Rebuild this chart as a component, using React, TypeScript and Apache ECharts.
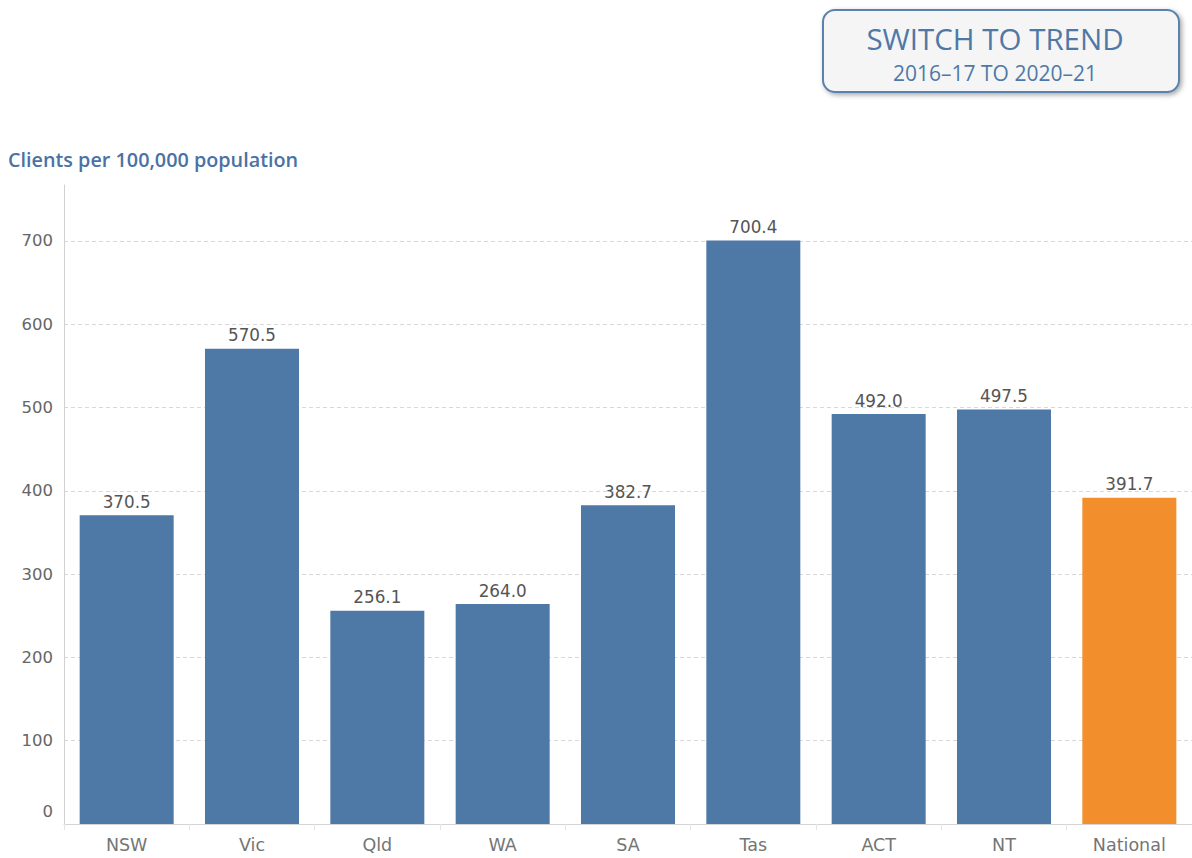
import React, { useEffect, useRef } from "react";
import * as echarts from "echarts";

const categories = ["NSW", "Vic", "Qld", "WA", "SA", "Tas", "ACT", "NT", "National"];
const values = [370.5, 570.5, 256.1, 264.0, 382.7, 700.4, 492.0, 497.5, 391.7];
const tickValues = [0, 100, 200, 300, 400, 500, 600, 700];
const axisTitle = "Clients per 100,000 population";
const buttonTitle = "SWITCH TO TREND";
const buttonSub = "2016\u201317 TO 2020\u201321";

const BLUE = "#4e79a7";
const ORANGE = "#f28e2b";
const LABEL_FONT = "DejaVu Sans, Verdana, sans-serif";

export default function App() {
  const ref = useRef<HTMLDivElement>(null);
  useEffect(() => {
    if (!ref.current) return;
    const chart = echarts.init(ref.current, null, { renderer: "svg" });
    chart.setOption({
      animation: false,
      textStyle: { fontFamily: LABEL_FONT },
      grid: { left: 64, right: 0, top: 185, bottom: 34, containLabel: false },
      xAxis: {
        type: "category",
        data: categories,
        axisLine: { lineStyle: { color: "#d4d4d4", width: 1 } },
        axisTick: { show: true, length: 6, lineStyle: { color: "#e4e4e4" } },
        axisLabel: { color: "#757575", fontSize: 17.5, margin: 12, fontFamily: LABEL_FONT },
      },
      yAxis: {
        type: "value",
        min: 0,
        max: 767,
        interval: 100,
        axisLine: { show: true, lineStyle: { color: "#d0d0d0" } },
        axisTick: { show: false, customValues: tickValues },
        axisLabel: {
          color: "#666",
          fontSize: 16.5,
          margin: 11,
          fontFamily: LABEL_FONT,
          customValues: tickValues,
          formatter: (v: number) => (v === 0 ? "{z|0}" : String(v)),
          rich: { z: { fontSize: 16.5, color: "#666", fontFamily: LABEL_FONT, padding: [0, 0, 26, 0] } },
        },
        splitLine: { show: true, lineStyle: { color: "#d8d8d8", type: [4, 3] } },
      },
      series: [
        {
          type: "bar",
          barCategoryGap: "25%",
          data: values.map((v, i) => ({
            value: v,
            itemStyle: { color: i === values.length - 1 ? ORANGE : BLUE },
          })),
          label: {
            show: true,
            position: "top",
            distance: 5,
            color: "#555",
            fontSize: 16.8,
            fontFamily: LABEL_FONT,
            formatter: (p: any) => Number(p.value).toFixed(1),
          },
        },
      ],
      graphic: [
        {
          type: "text",
          x: 8,
          y: 159,
          style: {
            text: axisTitle,
            fill: "#4a72a3",
            fontSize: 19.8,
            fontWeight: 600,
            fontFamily: "Open Sans, sans-serif",
            verticalAlign: "middle",
          },
        },
        {
          type: "rect",
          shape: { x: 823, y: 10, width: 356, height: 82, r: 12 },
          style: {
            fill: "#f5f5f5",
            stroke: "#5a82b0",
            lineWidth: 2,
            shadowBlur: 5,
            shadowColor: "rgba(0,0,0,0.35)",
            shadowOffsetX: 2,
            shadowOffsetY: 2,
          },
        },
        {
          type: "text",
          x: 995,
          y: 38,
          style: {
            text: buttonTitle,
            fill: "#4e79a7",
            fontSize: 29.5,
            lineHeight: 26,
            fontFamily: "Open Sans, sans-serif",
            align: "center",
            verticalAlign: "middle",
          },
        },
        {
          type: "text",
          x: 995,
          y: 72.5,
          style: {
            text: buttonSub,
            fill: "#4e79a7",
            fontSize: 21,
            lineHeight: 18,
            fontFamily: "Open Sans, sans-serif",
            align: "center",
            verticalAlign: "middle",
          },
        },
      ],
    });
    return () => chart.dispose();
  }, []);
  return (
    <div
      ref={ref}
      style={{ position: "fixed", left: 0, top: 0, width: 1192, height: 858, background: "#fff" }}
    />
  );
}
